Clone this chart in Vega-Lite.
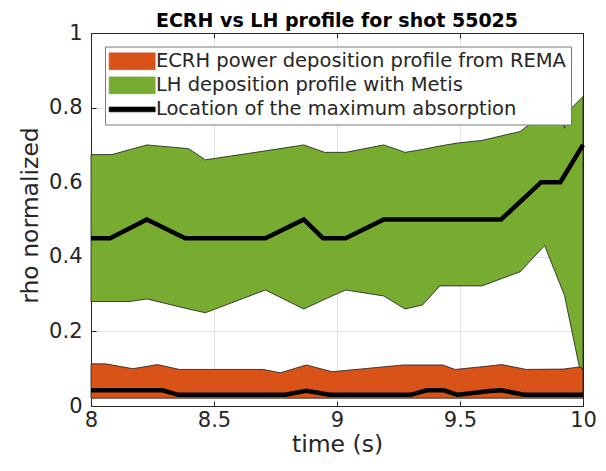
{
  "$schema": "https://vega.github.io/schema/vega-lite/v6.json",
  "width": 492,
  "height": 373,
  "autosize": {"type": "none"},
  "padding": {"left": 91, "top": 33, "right": 23, "bottom": 65},
  "background": "white",
  "config": {
    "font": "DejaVu Sans",
    "view": {"stroke": null},
    "axis": {
      "labelFont": "DejaVu Sans",
      "titleFont": "DejaVu Sans",
      "labelFontSize": 21,
      "titleFontSize": 23.5,
      "titleFontWeight": "normal",
      "labelColor": "#262626",
      "titleColor": "#262626",
      "domainColor": "#262626",
      "tickColor": "#262626",
      "domainWidth": 1,
      "gridColor": "#e3e3e3",
      "gridWidth": 1,
      "zindex": 1
    },
    "legend": {
      "labelFont": "DejaVu Sans",
      "labelFontSize": 19.5,
      "labelColor": "#262626"
    }
  },
  "title": {
    "text": "ECRH vs LH profile for shot 55025",
    "font": "DejaVu Sans",
    "fontSize": 19,
    "fontWeight": "bold",
    "color": "#000000",
    "anchor": "middle",
    "frame": "group",
    "offset": 4,
    "dy": 13
  },
  "datasets": {
    "green": [
      {"t": 8, "lo": 0.28, "hi": 0.674},
      {"t": 8.085, "lo": 0.28, "hi": 0.674},
      {"t": 8.156, "lo": 0.28, "hi": 0.687},
      {"t": 8.227, "lo": 0.287, "hi": 0.7},
      {"t": 8.397, "lo": 0.26, "hi": 0.69},
      {"t": 8.465, "lo": 0.25, "hi": 0.66},
      {"t": 8.709, "lo": 0.311, "hi": 0.684},
      {"t": 8.865, "lo": 0.26, "hi": 0.7},
      {"t": 8.95, "lo": 0.286, "hi": 0.68},
      {"t": 9.035, "lo": 0.311, "hi": 0.68},
      {"t": 9.19, "lo": 0.295, "hi": 0.7},
      {"t": 9.277, "lo": 0.26, "hi": 0.68},
      {"t": 9.348, "lo": 0.271, "hi": 0.688},
      {"t": 9.418, "lo": 0.322, "hi": 0.697},
      {"t": 9.489, "lo": 0.322, "hi": 0.705},
      {"t": 9.589, "lo": 0.322, "hi": 0.712},
      {"t": 9.745, "lo": 0.36, "hi": 0.736},
      {"t": 9.776, "lo": 0.382, "hi": 0.752},
      {"t": 9.844, "lo": 0.43, "hi": 0.8},
      {"t": 9.905, "lo": 0.329, "hi": 0.79},
      {"t": 9.925, "lo": 0.296, "hi": 0.745},
      {"t": 9.94, "lo": 0.248, "hi": 0.79},
      {"t": 9.985, "lo": 0.105, "hi": 0.82},
      {"t": 10, "lo": 0.1, "hi": 0.83}
    ],
    "ecrh": [
      {"t": 8, "lo": 0.021, "hi": 0.113},
      {"t": 8.06, "lo": 0.021, "hi": 0.113},
      {"t": 8.17, "lo": 0.021, "hi": 0.1},
      {"t": 8.27, "lo": 0.021, "hi": 0.111},
      {"t": 8.36, "lo": 0.021, "hi": 0.098},
      {"t": 8.7, "lo": 0.021, "hi": 0.098},
      {"t": 8.77, "lo": 0.021, "hi": 0.089},
      {"t": 8.875, "lo": 0.021, "hi": 0.11},
      {"t": 8.98, "lo": 0.021, "hi": 0.092},
      {"t": 9.11, "lo": 0.021, "hi": 0.1},
      {"t": 9.27, "lo": 0.021, "hi": 0.11},
      {"t": 9.43, "lo": 0.021, "hi": 0.11},
      {"t": 9.48, "lo": 0.021, "hi": 0.098},
      {"t": 9.57, "lo": 0.021, "hi": 0.104},
      {"t": 9.67, "lo": 0.021, "hi": 0.111},
      {"t": 9.77, "lo": 0.021, "hi": 0.098},
      {"t": 9.92, "lo": 0.021, "hi": 0.099},
      {"t": 10, "lo": 0.021, "hi": 0.106}
    ],
    "greenmax": [
      {"t": 8, "v": 0.45},
      {"t": 8.078, "v": 0.45},
      {"t": 8.227, "v": 0.5},
      {"t": 8.383, "v": 0.45},
      {"t": 8.709, "v": 0.45},
      {"t": 8.865, "v": 0.5},
      {"t": 8.943, "v": 0.45},
      {"t": 9.035, "v": 0.45},
      {"t": 9.19, "v": 0.5},
      {"t": 9.667, "v": 0.5},
      {"t": 9.83, "v": 0.6},
      {"t": 9.908, "v": 0.6},
      {"t": 10, "v": 0.7}
    ],
    "ecrhmax": [
      {"t": 8, "v": 0.042},
      {"t": 8.29, "v": 0.042},
      {"t": 8.355, "v": 0.03},
      {"t": 8.79, "v": 0.03},
      {"t": 8.875, "v": 0.041},
      {"t": 8.97, "v": 0.03},
      {"t": 9.3, "v": 0.03},
      {"t": 9.365, "v": 0.042},
      {"t": 9.434, "v": 0.042},
      {"t": 9.49, "v": 0.03},
      {"t": 9.52, "v": 0.032},
      {"t": 9.62, "v": 0.04},
      {"t": 9.67, "v": 0.042},
      {"t": 9.76, "v": 0.03},
      {"t": 10, "v": 0.03}
    ]
  },
  "resolve": {"axis": {"x": "independent", "y": "independent"}},
  "layer": [
    {
      "data": {"name": "ecrh"},
      "mark": {"type": "area", "stroke": "#1a1a1a", "strokeWidth": 0.8, "opacity": 1},
      "encoding": {
        "x": {
          "field": "t", "type": "quantitative",
          "scale": {"domain": [8, 10], "nice": false, "zero": false},
          "axis": {"orient": "bottom", "values": [8, 8.5, 9, 9.5, 10], "format": "~g", "grid": true, "tickSize": -5, "labelPadding": 8, "title": "time (s)", "titleBaseline": "alphabetic", "titleY": 45, "labelFlush": false}
        },
        "y": {
          "field": "lo", "type": "quantitative",
          "scale": {"domain": [0, 1], "nice": false, "zero": false},
          "axis": {"orient": "left", "values": [0, 0.2, 0.4, 0.6, 0.8, 1], "format": "~g", "grid": true, "tickSize": -5, "labelPadding": 14, "title": "rho normalized", "titleBaseline": "alphabetic", "titleX": -54, "titleY": 182, "titleAngle": -90, "labelFlush": false}
        },
        "y2": {"field": "hi"},
        "color": {
          "datum": "ECRH power deposition profile from REMA",
          "type": "nominal",
          "scale": {
            "domain": ["ECRH power deposition profile from REMA", "LH deposition profile with Metis", "Location of the maximum absorption"],
            "range": ["#D95319", "#77AC30", "#000000"]
          },
          "legend": {
            "title": null,
            "orient": "none",
            "legendX": 14,
            "legendY": 13.5,
            "fillColor": "#ffffff",
            "strokeColor": "#7a7a7a",
            "padding": 5,
            "rowPadding": 3.1,
            "symbolSize": 279,
            "symbolType": {"expr": "datum.value === 'Location of the maximum absorption' ? 'M-2.75,-0.28H2.75V0.28H-2.75Z' : 'M-2.75,-1H2.75V1H-2.75Z'"},
            "symbolOffset": 12.4,
            "symbolStrokeColor": {"expr": "datum.value === 'Location of the maximum absorption' ? 'transparent' : '#1a1a1a'"},
            "symbolStrokeWidth": 0.8,
            "labelOffset": 14,
            "labelLimit": 1000
          }
        }
      }
    },
    {
      "data": {"name": "green"},
      "mark": {"type": "area", "stroke": "#1a1a1a", "strokeWidth": 0.8, "opacity": 1},
      "encoding": {
        "x": {"field": "t", "type": "quantitative", "axis": null},
        "y": {"field": "lo", "type": "quantitative", "axis": null},
        "y2": {"field": "hi"},
        "color": {"datum": "LH deposition profile with Metis", "type": "nominal"}
      }
    },
    {
      "data": {"name": "greenmax"},
      "mark": {"type": "line", "strokeWidth": 4.5},
      "encoding": {
        "x": {"field": "t", "type": "quantitative", "axis": {"orient": "top", "values": [8, 8.5, 9, 9.5, 10], "labels": false, "grid": false, "tickSize": -5, "title": null}},
        "y": {"field": "v", "type": "quantitative", "axis": {"orient": "right", "values": [0, 0.2, 0.4, 0.6, 0.8, 1], "labels": false, "grid": false, "tickSize": -5, "title": null}},
        "color": {"datum": "Location of the maximum absorption", "type": "nominal"}
      }
    },
    {
      "data": {"name": "ecrhmax"},
      "mark": {"type": "line", "strokeWidth": 4.5},
      "encoding": {
        "x": {"field": "t", "type": "quantitative", "axis": null},
        "y": {"field": "v", "type": "quantitative", "axis": null},
        "color": {"datum": "Location of the maximum absorption", "type": "nominal"}
      }
    }
  ]
}
